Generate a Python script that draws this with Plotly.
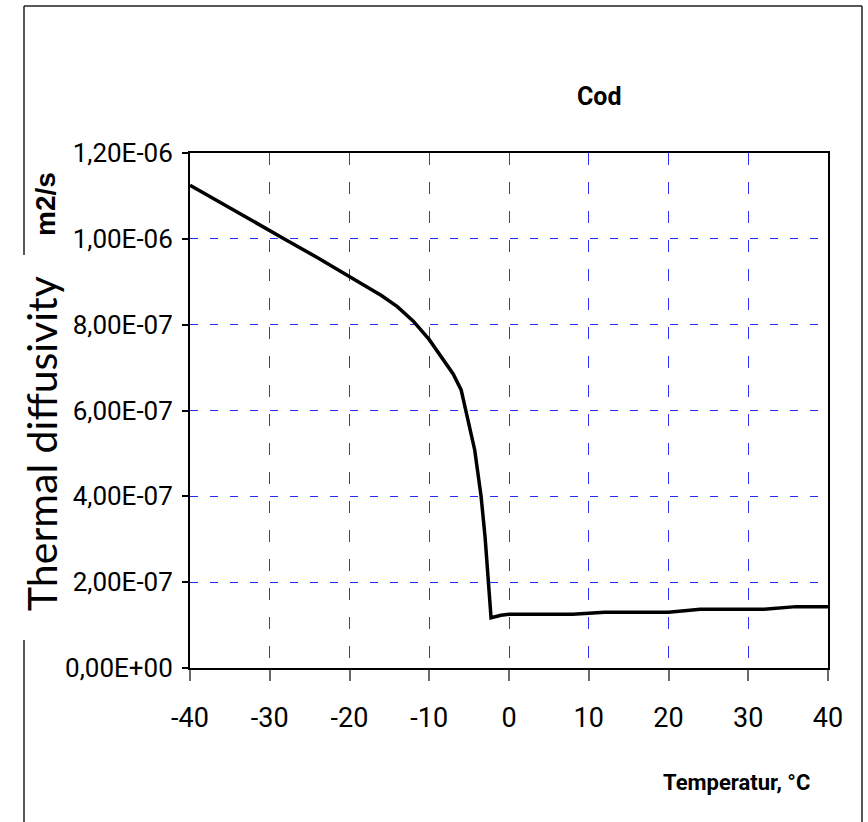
import plotly.graph_objects as go

# Thermal diffusivity of cod versus temperature
temperature = [-40, -36, -32, -28, -24, -20, -16, -14, -12, -10, -8, -7, -6, -5,
               -4.3, -3.5, -3, -2.25, -1, 0, 4, 8, 12, 16, 20, 24, 28, 32, 36, 40]
diffusivity = [1.125e-6, 1.082e-6, 1.040e-6, 0.998e-6, 0.956e-6, 0.913e-6, 0.868e-6,
               0.842e-6, 0.808e-6, 0.765e-6, 0.712e-6, 0.685e-6, 0.648e-6, 0.570e-6,
               0.508e-6, 0.400e-6, 0.305e-6, 0.117e-6, 0.123e-6, 0.125e-6, 0.125e-6,
               0.125e-6, 0.130e-6, 0.130e-6, 0.130e-6, 0.137e-6, 0.137e-6, 0.137e-6,
               0.143e-6, 0.143e-6]

x_ticks = [-40, -30, -20, -10, 0, 10, 20, 30, 40]
x_tick_text = ["-40", "-30", "-20", "-10", "0", "10", "20", "30", "40"]
y_ticks = [0, 2e-7, 4e-7, 6e-7, 8e-7, 1e-6, 1.2e-6]
y_tick_text = ["0,00E+00", "2,00E-07", "4,00E-07", "6,00E-07", "8,00E-07",
               "1,00E-06", "1,20E-06"]

W, H = 868, 822
ML, MR, MT, MB = 190, 40, 153, 154
PW, PH = W - ML - MR, H - MT - MB

NARROW = "Liberation Sans Narrow, Arial Narrow, Roboto, sans-serif"


def px(x):
    return (x - ML) / PW


def py(y):
    return (H - MB - y) / PH


fig = go.Figure()
fig.add_trace(go.Scatter(
    x=temperature, y=diffusivity, mode="lines",
    line=dict(color="black", width=3.5), showlegend=False, hoverinfo="x+y",
))

fig.update_layout(
    width=W, height=H,
    margin=dict(l=ML, r=MR, t=MT, b=MB, pad=0),
    paper_bgcolor="white", plot_bgcolor="white",
    showlegend=False,
    xaxis=dict(
        range=[-40, 40], tickvals=x_ticks, ticktext=x_tick_text,
        ticks="outside", ticklen=11, tickwidth=1.5, tickcolor="#6a6a6a",
        showline=True, linecolor="black", linewidth=2, mirror=True,
        showgrid=True, gridcolor="#2f2fff", gridwidth=1, griddash="12px,17px",
        zeroline=False,
        tickfont=dict(family=NARROW, size=27, color="black"),
        ticklabelstandoff=14,
    ),
    yaxis=dict(
        range=[0, 1.2e-6], tickvals=y_ticks, ticktext=y_tick_text,
        ticks="outside", ticklen=6, tickwidth=1.5, tickcolor="black",
        showline=True, linecolor="black", linewidth=2, mirror=True,
        showgrid=True, gridcolor="#2a2aff", gridwidth=1, griddash="8px,12px",
        zeroline=False,
        tickfont=dict(family=NARROW, size=26, color="black"),
        ticklabelstandoff=4,
    ),
)

# Outer chart border, left side interrupted by the axis title
border = dict(color="#222222", width=1.5)
left, right, top, gap_top, gap_bottom = 24, 862, 6, 255, 640
fig.add_shape(type="line", xref="paper", yref="paper", x0=px(left), x1=px(right),
              y0=py(top), y1=py(top), line=border)
fig.add_shape(type="line", xref="paper", yref="paper", x0=px(right), x1=px(right),
              y0=py(top), y1=py(H + 2), line=border)
fig.add_shape(type="line", xref="paper", yref="paper", x0=px(left), x1=px(left),
              y0=py(top), y1=py(gap_top), line=border)
fig.add_shape(type="line", xref="paper", yref="paper", x0=px(left), x1=px(left),
              y0=py(gap_bottom), y1=py(H + 2), line=border)

common = dict(xref="paper", yref="paper", showarrow=False,
              xanchor="center", yanchor="middle")
fig.add_annotation(text="<b>Cod</b>", x=px(599), y=py(96),
                   font=dict(family=NARROW, size=25, color="black"), **common)
fig.add_annotation(text="<b>Temperatur, °C</b>", x=px(736), y=py(782),
                   font=dict(family=NARROW, size=22, color="black"), **common)
fig.add_annotation(text="<b>m2/s</b>", x=px(45), y=py(204), textangle=-90,
                   font=dict(family="Liberation Sans, Arial, sans-serif", size=28,
                             color="black"), **common)
fig.add_annotation(text="Thermal diffusivity", x=px(41), y=py(444), textangle=-90,
                   font=dict(family="Lato, Open Sans, sans-serif", size=41,
                             color="black"), **common)

fig.write_html("out.html")
